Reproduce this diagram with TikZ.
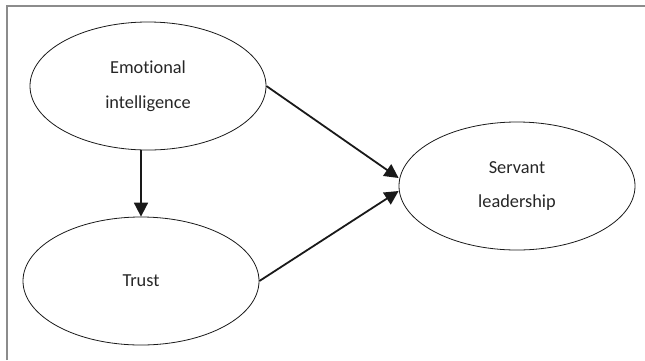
\documentclass[tikz,border=0pt]{standalone}
\usepackage{fontspec}
\setmainfont[Ligatures=NoCommon]{Carlito}
\usetikzlibrary{shapes.geometric,arrows.meta}
\tikzset{
    EL/.style ={ellipse,minimum width = 236bp, minimum height = 128bp, inner sep=0pt, draw=black!90, line width=0.8pt,
        align=center, text=black!85, font=\fontsize{18.4}{35}\selectfont},
    AR/.style ={line width=1.8pt,black!90,-{Triangle[length=14bp,width=14bp]}},
    FR/.style ={draw=gray!90,line width=1.6bp}}

\begin{document}
\begin{tikzpicture}[x=1bp,y=-1bp]
    \useasboundingbox (0,0) rectangle (645,360);
    \draw[FR] (7,360) -- (7,6) -- (645,6);
    \node[EL](emo) at(148,86){Emotional\\intelligence};
    \node[EL](trust) at(141,281){Trust};
    \node[EL](serv) at(517,186){Servant\\leadership};
    \draw[AR] (emo.south -| trust.north) -- (trust.north);
    \draw[AR] (emo.east) -- ([yshift=8bp]serv.west);
    \draw[AR] (trust.east) -- ([yshift=-5bp]serv.west);
\end{tikzpicture}
\end{document}
